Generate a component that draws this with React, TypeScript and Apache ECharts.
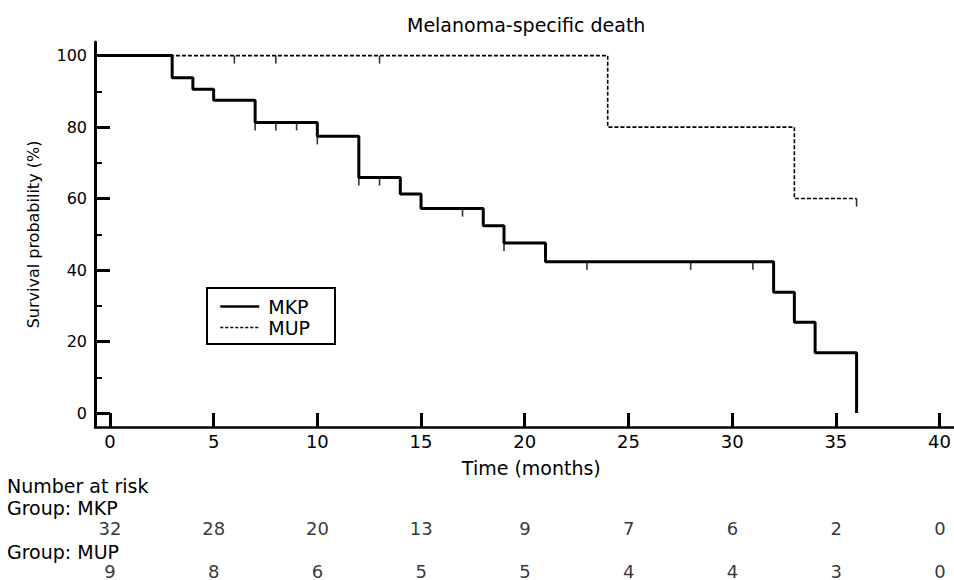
import React, { useEffect, useRef } from "react";
import * as echarts from "echarts";

// ---- data ----
const mkpTimes = [0, 3, 4, 5, 7, 10, 12, 14, 15, 18, 19, 21, 32, 33, 34, 36];
const mkpSurv = [100, 93.8, 90.6, 87.5, 81.3, 77.4, 65.9, 61.3, 57.2, 52.4, 47.6, 42.3, 33.8, 25.4, 16.9, 0];
const mkpCensored = [7, 8, 9, 10, 12, 13, 17, 19, 23, 28, 31];

const mupTimes = [0, 24, 33, 36];
const mupSurv = [100, 80, 60, 60];
const mupCensored = [6, 8, 13, 36];

const riskTimes = [0, 5, 10, 15, 20, 25, 30, 35, 40];
const mkpAtRisk = [32, 28, 20, 13, 9, 7, 6, 2, 0];
const mupAtRisk = [9, 8, 6, 5, 5, 4, 4, 3, 0];

const xTicks = [0, 5, 10, 15, 20, 25, 30, 35, 40];
const yTicks = [0, 20, 40, 60, 80, 100];
const yMinorTicks = [10, 30, 50, 70, 90];

const FONT = "DejaVu Sans";

function survAt(times: number[], surv: number[], t: number): number {
  let v = surv[0];
  for (let i = 0; i < times.length; i++) {
    if (times[i] <= t) v = surv[i];
  }
  return v;
}

export default function App() {
  const ref = useRef<HTMLDivElement>(null);

  useEffect(() => {
    if (!ref.current) return;
    const chart = echarts.init(ref.current, undefined, { renderer: "svg" });

    const X_MIN = -0.72;
    const X_MAX = 40.68;
    const Y_MIN = -3.9;
    const Y_MAX = 103.8;

    const riskLabel = {
      show: true,
      position: "inside",
      formatter: (p: any) => String(p.value[2]),
      fontFamily: FONT,
      fontSize: 18,
      color: "#000",
    };

    const option: any = {
      animation: false,
      backgroundColor: "#ffffff",
      title: {
        text: "Melanoma-specific death",
        left: 407,
        top: 15,
        padding: 0,
        textStyle: { fontFamily: FONT, fontSize: 19, fontWeight: "normal", color: "#000" },
      },
      legend: {
        data: [
          { name: "MKP", lineStyle: { width: 2.5 } },
          { name: "MUP", lineStyle: { width: 1.5, type: [3, 2] } },
        ],
        orient: "vertical",
        left: 207,
        top: 288,
        padding: [9, 25, 7, 12],
        itemGap: 2,
        itemWidth: 39,
        itemHeight: 18,
        borderColor: "#000",
        borderWidth: 2,
        itemStyle: { opacity: 0 },
        textStyle: { fontFamily: FONT, fontSize: 19, color: "#000", padding: [0, 0, 0, 4] },
        selectedMode: false,
      },
      grid: [
        { left: 95, top: 42, width: 859, height: 385, containLabel: false },
        { left: 95, top: 528, width: 859, height: 43, containLabel: false },
      ],
      xAxis: [
        {
          type: "value",
          gridIndex: 0,
          min: X_MIN,
          max: X_MAX,
          position: "bottom",
          name: "Time (months)",
          nameLocation: "middle",
          nameGap: 31,
          nameTextStyle: { fontFamily: FONT, fontSize: 19, color: "#000", padding: [0, 0, 0, 14] },
          axisLine: { show: true, onZero: false, lineStyle: { color: "#000", width: 2.5 } },
          axisTick: { show: true, inside: true, length: 14, customValues: xTicks, lineStyle: { color: "#000", width: 3 } },
          axisLabel: { show: true, customValues: xTicks, margin: 5, fontFamily: FONT, fontSize: 18, color: "#000" },
          splitLine: { show: false },
        },
        {
          type: "value",
          gridIndex: 1,
          min: X_MIN,
          max: X_MAX,
          show: false,
        },
      ],
      yAxis: [
        {
          type: "value",
          gridIndex: 0,
          min: Y_MIN,
          max: Y_MAX,
          position: "left",
          name: "Survival probability (%)",
          nameLocation: "middle",
          nameGap: 54,
          nameTextStyle: { fontFamily: FONT, fontSize: 16, color: "#000" },
          axisLine: { show: true, onZero: false, lineStyle: { color: "#000", width: 3 } },
          axisTick: { show: true, inside: true, length: 15, customValues: yTicks, lineStyle: { color: "#000", width: 3 } },
          axisLabel: { show: true, customValues: yTicks, margin: 8, fontFamily: FONT, fontSize: 16, color: "#000" },
          splitLine: { show: false },
        },
        {
          type: "value",
          gridIndex: 0,
          min: Y_MIN,
          max: Y_MAX,
          position: "left",
          axisLine: { show: false, onZero: false },
          axisTick: { show: true, inside: true, length: 7, customValues: yMinorTicks, lineStyle: { color: "#000", width: 2 } },
          axisLabel: { show: false },
          splitLine: { show: false },
        },
        {
          type: "value",
          gridIndex: 1,
          min: 0,
          max: 1,
          show: false,
        },
      ],
      graphic: [
        { type: "text", left: 7, top: 476, style: { text: "Number at risk", fontFamily: FONT, fontSize: 19, fill: "#000" } },
        { type: "text", left: 7, top: 498, style: { text: "Group: MKP", fontFamily: FONT, fontSize: 19, fill: "#000" } },
        { type: "text", left: 7, top: 542, style: { text: "Group: MUP", fontFamily: FONT, fontSize: 19, fill: "#000" } },
      ],
      series: [
        {
          name: "MUP",
          type: "line",
          xAxisIndex: 0,
          yAxisIndex: 0,
          step: "end",
          symbol: "none",
          showSymbol: false,
          data: mupTimes.map((t, i) => [t, mupSurv[i]]),
          lineStyle: { color: "#000", width: 1.6, type: [4, 2] },
          itemStyle: { color: "#000" },
          z: 2,
        },
        {
          name: "MKP",
          type: "line",
          xAxisIndex: 0,
          yAxisIndex: 0,
          step: "end",
          symbol: "none",
          showSymbol: false,
          data: mkpTimes.map((t, i) => [t, mkpSurv[i]]),
          lineStyle: { color: "#000", width: 3 },
          itemStyle: { color: "#000" },
          z: 3,
        },
        {
          name: "MKP censored",
          type: "scatter",
          xAxisIndex: 0,
          yAxisIndex: 0,
          symbol: "rect",
          symbolSize: [1.6, 8],
          symbolOffset: [0, 4],
          itemStyle: { color: "#000" },
          silent: true,
          data: mkpCensored.map((t) => [t, survAt(mkpTimes, mkpSurv, t)]),
          z: 4,
        },
        {
          name: "MUP censored",
          type: "scatter",
          xAxisIndex: 0,
          yAxisIndex: 0,
          symbol: "rect",
          symbolSize: [1.6, 8],
          symbolOffset: [0, 4],
          itemStyle: { color: "#000" },
          silent: true,
          data: mupCensored.map((t) => [t, survAt(mupTimes, mupSurv, t)]),
          z: 4,
        },
        {
          name: "MKP at risk",
          type: "scatter",
          xAxisIndex: 1,
          yAxisIndex: 2,
          symbolSize: 0,
          silent: true,
          data: riskTimes.map((t, i) => [t, 1, mkpAtRisk[i]]),
          label: riskLabel,
        },
        {
          name: "MUP at risk",
          type: "scatter",
          xAxisIndex: 1,
          yAxisIndex: 2,
          symbolSize: 0,
          silent: true,
          data: riskTimes.map((t, i) => [t, 0, mupAtRisk[i]]),
          label: riskLabel,
        },
      ],
    };

    chart.setOption(option);
    return () => {
      chart.dispose();
    };
  }, []);

  return (
    <div
      ref={ref}
      style={{ position: "absolute", left: 0, top: 0, width: 954, height: 580, background: "#fff" }}
    />
  );
}
